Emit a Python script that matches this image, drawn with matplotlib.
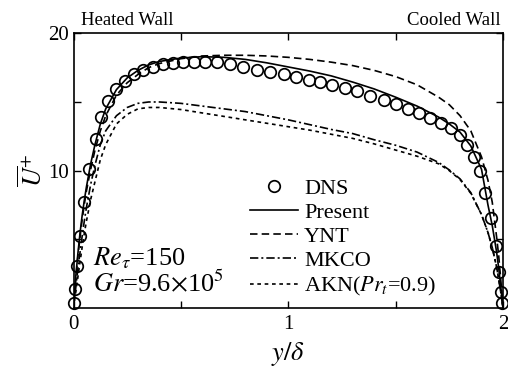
import matplotlib
matplotlib.use("Agg")
import matplotlib.pyplot as plt

plt.rcParams["font.family"] = ["Liberation Serif", "DejaVu Serif"]
plt.rcParams["mathtext.fontset"] = "stix"

# DNS mean velocity profile
dns_x = [0.000, 0.005, 0.014, 0.030, 0.049, 0.072, 0.103, 0.128, 0.161, 0.196,
         0.238, 0.280, 0.322, 0.369, 0.416, 0.463, 0.509, 0.561, 0.612, 0.668,
         0.729, 0.790, 0.854, 0.916, 0.978, 1.037, 1.095, 1.150, 1.206, 1.262,
         1.321, 1.383, 1.444, 1.500, 1.556, 1.610, 1.659, 1.710, 1.757, 1.799,
         1.834, 1.864, 1.895, 1.914, 1.944, 1.967, 1.983, 1.991, 1.995]
dns_u = [0.36, 1.38, 3.05, 5.24, 7.71, 10.11, 12.29, 13.89, 15.05, 15.93,
         16.51, 17.02, 17.31, 17.56, 17.75, 17.85, 17.91, 17.93, 17.93, 17.89,
         17.75, 17.53, 17.36, 17.16, 17.02, 16.82, 16.63, 16.46, 16.27, 16.04,
         15.78, 15.45, 15.13, 14.84, 14.52, 14.20, 13.85, 13.48, 13.07, 12.58,
         11.85, 11.00, 9.96, 8.36, 6.55, 4.51, 2.62, 1.19, 0.34]

# Model predictions on a common wall-normal grid
model_x = [0, 0.01, 0.02, 0.03, 0.04, 0.05, 0.06, 0.08, 0.1, 0.125, 0.15, 0.2,
           0.25, 0.3, 0.35, 0.4, 0.5, 0.6, 0.7, 0.8, 0.9, 1.0, 1.1, 1.2, 1.3,
           1.4, 1.5, 1.6, 1.7, 1.75, 1.8, 1.85, 1.9, 1.93, 1.95, 1.97, 1.98,
           1.99, 2.0]
present_u = [0, 2.2, 3.9, 5.4, 6.7, 7.8, 8.8, 10.5, 11.9, 13.4, 14.5, 15.9,
             16.75, 17.3, 17.7, 17.95, 18.2, 18.3, 18.25, 18.1, 17.85, 17.55,
             17.25, 16.9, 16.45, 15.95, 15.35, 14.7, 13.9, 13.4, 12.8, 11.8,
             10.1, 7.5, 6.0, 4.1, 2.9, 1.5, 0]
ynt_u = [0, 2.0, 3.7, 5.1, 6.4, 7.5, 8.5, 10.1, 11.5, 12.9, 14.0, 15.5,
         16.4, 17.0, 17.5, 17.8, 18.15, 18.35, 18.4, 18.4, 18.35, 18.25,
         18.1, 17.9, 17.65, 17.3, 16.85, 16.25, 15.35, 14.8, 14.0, 12.9,
         11.0, 9.3, 7.7, 5.2, 3.8, 2.0, 0]
mkco_u = [0, 1.4, 2.8, 4.0, 5.2, 6.3, 7.3, 9.0, 10.4, 11.9, 12.9, 14.0,
          14.6, 14.9, 15.0, 15.0, 14.9, 14.7, 14.5, 14.3, 14.0, 13.7,
          13.35, 13.0, 12.7, 12.25, 11.85, 11.35, 10.6, 10.05, 9.4, 8.4,
          6.8, 5.5, 4.4, 3.0, 2.1, 1.1, 0]
akn_u = [0, 1.1, 2.2, 3.3, 4.4, 5.4, 6.3, 7.9, 9.2, 10.8, 11.9, 13.4,
         14.1, 14.5, 14.6, 14.6, 14.45, 14.2, 13.95, 13.7, 13.45, 13.2,
         12.95, 12.65, 12.35, 11.95, 11.5, 11.05, 10.5, 10.0, 9.35, 8.35,
         6.8, 5.5, 4.4, 3.0, 2.1, 1.1, 0]

x_ticks = [0, 1, 2]
y_ticks = [10, 20]

W, H = 508, 366
fig = plt.figure(figsize=(W / 100, H / 100), dpi=100)
ax = fig.add_axes([73.5 / W, (H - 308) / H, 429.5 / W, 274.7 / H])

lw = 1.2
ax.plot(model_x, present_u, color="black", lw=lw, ls="-", label="Present")
ax.plot(model_x, ynt_u, color="black", lw=lw, ls=(0, (4.5, 2.5)), label="YNT")
ax.plot(model_x, mkco_u, color="black", lw=lw, ls=(0, (5, 1.8, 1.2, 1.8)), label="MKCO")
ax.plot(model_x, akn_u, color="black", lw=lw, ls=(0, (2.2, 2.2)),
        label=r"AKN($Pr_t$=0.9)")
ax.plot(dns_x, dns_u, ls="none", marker="o", ms=8.3, mfc="none", mec="black",
        mew=1.25, label="DNS", clip_on=False, zorder=5)

ax.set_xlim(0, 2)
ax.set_ylim(0, 20)
ax.set_xticks(x_ticks)
ax.set_xticks([0.5, 1.5], minor=True)
ax.set_yticks(y_ticks)
ax.set_yticks([5, 15], minor=True)
ax.tick_params(which="both", direction="in", top=True, right=True,
               labelsize=15, width=1.0)
ax.tick_params(which="major", length=5, pad=5)
ax.tick_params(which="minor", length=5)
ax.tick_params(axis="y", which="major", pad=3)
for s in ax.spines.values():
    s.set_linewidth(1.2)

ax.set_xlabel(r"$y/\delta$", fontsize=19, labelpad=4)
ax.set_ylabel(r"$\overline{U}^{+}$", fontsize=19, labelpad=1)

handles, labels = ax.get_legend_handles_labels()
order = [4, 0, 1, 2, 3]
ax.legend([handles[i] for i in order], [labels[i] for i in order],
          loc="upper left", bbox_to_anchor=(0.411, 0.472), frameon=False,
          fontsize=16, handlelength=2.16, handletextpad=0.27,
          labelspacing=0.16, borderaxespad=0, borderpad=0)

ax.text(0.046, 0.154, r"$Re_{\tau}$=150", transform=ax.transAxes,
        fontsize=19, va="baseline")
ax.text(0.046, 0.061, r"$Gr$=9.6$\times$10$^{5}$", transform=ax.transAxes,
        fontsize=19, va="baseline")

fig.text(81 / W, 1 - 25 / H, "Heated Wall", fontsize=13.5, va="baseline")
fig.text(501 / W, 1 - 25 / H, "Cooled Wall", fontsize=13.5, va="baseline",
         ha="right")

fig.savefig("out.png", dpi=100)
